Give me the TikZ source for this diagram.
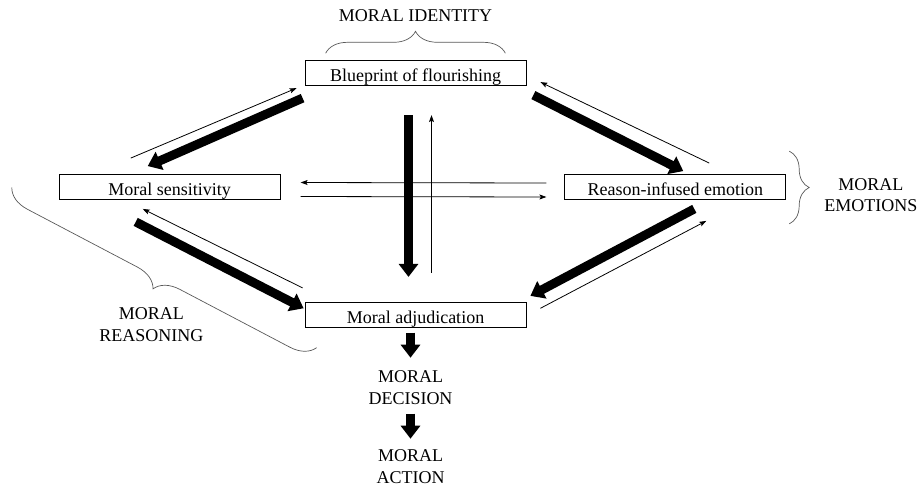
\documentclass[tikz,border=0pt]{standalone}
\usepackage{fontspec}
\setmainfont{Liberation Serif}
\usetikzlibrary{matrix,arrows.meta,positioning,decorations.pathreplacing}

\begin{document}
\begin{tikzpicture}[x=1pt, y=-1pt,
		font=\fontsize{18}{21.5}\selectfont,
		box/.style={draw, line width=0.8pt, anchor=center, minimum width=221pt, minimum height=25pt,
			inner sep=1pt, text height=20pt, text depth=3pt},
		lbl/.style={align=center, inner sep=0pt},
		slim/.style={line width=0.8pt, -{Stealth[length=7pt,width=5pt,inset=1.5pt]}},
		fat/.style={line width=9pt, -{Triangle[length=13pt,width=19pt]}},
		brc/.style={draw=black!65, line width=0.7pt, decorate}]
			\useasboundingbox (0,0) rectangle (920,488);
			\matrix (m) [matrix of nodes, row sep=88pt, column sep=24pt, nodes={box}] at (422.5,194)
			{
				& Blueprint of flourishing &[14pt] \\
				Moral sensitivity & &[14pt] Reason-infused emotion \\[14pt]
				& Moral adjudication &[14pt] \\
			};
			\node (ident) [lbl, above=38pt of m-1-2] {MORAL IDENTITY};
			\node (emot) [lbl, right=38pt of m-2-3, yshift=-8pt] {MORAL\\EMOTIONS};
			\node (reas) [lbl, left=101pt of m-3-2, yshift=-10pt] {MORAL\\REASONING};
			\node (dec) [lbl, below=43pt of m-3-2, xshift=-5pt] {MORAL\\DECISION};
			\node (act) [lbl, below=45pt of dec] {MORAL\\ACTION};
			\draw[brc, decoration={brace, amplitude=22pt}]
				([shift={(21,-7)}]m-1-2.north west) -- ([shift={(-21,-7)}]m-1-2.north east);
			\draw[brc, decoration={brace, amplitude=20pt}]
				([shift={(3,-23)}]m-2-3.north east) -- ([shift={(3,24)}]m-2-3.south east);
			\draw[brc, decoration={brace, mirror, amplitude=24pt}]
				([shift={(-47,0.5)}]m-2-1.west) -- ([shift={(12,20)}]m-3-2.south west);
			\path[slim]
			([shift={(-39,-16)}]m-2-1.north) edge ([shift={(-8,2)}]m-1-2.south west)
			([shift={(34,-11)}]m-2-3.north) edge ([shift={(14,-4)}]m-1-2.south east)
			([shift={(-18,-4)}]m-2-3.west) edge ([shift={(20,-4.5)}]m-2-1.east)
			([shift={(20,9.5)}]m-2-1.east) edge ([shift={(-18,10)}]m-2-3.west)
			([shift={(16,-29)}]m-3-2.north) edge ([shift={(16,29)}]m-1-2.south)
			([shift={(-2,-14)}]m-3-2.north west) edge ([shift={(-27,9)}]m-2-1.south)
			([shift={(14,-6.5)}]m-3-2.east) edge ([shift={(31,21)}]m-2-3.south);
			\path[fat]
			([shift={(-2,12)}]m-1-2.south west) edge ([shift={(-22,-8)}]m-2-1.north)
			([shift={(7,9)}]m-1-2.south east) edge ([shift={(8,-3)}]m-2-3.north)
			([shift={(-7,29)}]m-1-2.south) edge ([shift={(-7,-25)}]m-3-2.north)
			([shift={(-34,22)}]m-2-1.south) edge ([shift={(-1,-6.5)}]m-3-2.west)
			([shift={(19,9)}]m-2-3.south) edge ([shift={(4,-6)}]m-3-2.north east)
			([shift={(-5,5)}]m-3-2.south) edge ([shift={(0,-13)}]dec.north)
			([shift={(0,9)}]dec.south) edge ([shift={(0,-11)}]act.north);
		\end{tikzpicture}
\end{document}
